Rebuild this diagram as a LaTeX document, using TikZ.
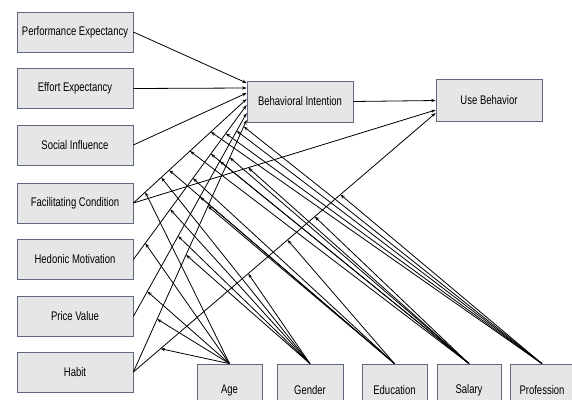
\documentclass[tikz,border=0pt]{standalone}
\usepackage{fontspec}
\setmainfont{Liberation Sans}[FakeStretch=0.76]
\usetikzlibrary{arrows.meta,calc}
\definecolor{boxfill}{RGB}{230,230,230}
\definecolor{boxline}{RGB}{95,105,125}
\begin{document}
\begin{tikzpicture}[x=1pt,y=-1pt,
  box/.style={draw=boxline,fill=boxfill,line width=0.7pt,inner sep=0pt,align=center,font=\fontsize{12.5}{14}\selectfont},
  lbox/.style={box,minimum width=116pt,minimum height=40pt},
  bbox/.style={box,minimum height=52pt},
  arr/.style={-{Stealth[length=4.5pt,width=3.2pt]},line width=0.8pt,black}]
\useasboundingbox (0,0) rectangle (572,399);
\clip (0,0) rectangle (572,399);
% source constructs
\node[lbox] (pe) at (75,32) {Performance Expectancy};
\node[lbox] (ee) at (75,88.5) {Effort Expectancy};
\node[lbox] (si) at (75,145) {Social Influence};
\node[lbox] (fc) at (75,203) {Facilitating Condition};
\node[lbox] (hm) at (75,259.5) {Hedonic Motivation};
\node[lbox] (pv) at (75,316.5) {Price Value};
\node[lbox] (ht) at (75,372) {Habit};
% targets
\node[box,minimum width=106pt,minimum height=41pt] (bi) at (300,101.5) {Behavioral Intention};
\node[box,minimum width=106pt,minimum height=42pt] (ub) at (489,100) {Use Behavior};
% moderators
\node[bbox,minimum width=65pt] (age) at (229.5,390) {Age};
\node[bbox,minimum width=66pt] (gen) at (310,390) {Gender};
\node[bbox,minimum width=65pt] (edu) at (394.5,390) {Education};
\node[bbox,minimum width=64pt] (sal) at (469,390) {Salary};
\node[bbox,minimum width=64pt] (pro) at (542,390) {Profession};
% end points on the targets
\coordinate (b1) at (bi.west |- 0,83);
\coordinate (b2) at (bi.west |- 0,88);
\coordinate (b3) at (bi.west |- 0,93);
\coordinate (b4) at (bi.west |- 0,99);
\coordinate (b5) at (bi.west |- 0,105);
\coordinate (b6) at (bi.west |- 0,113);
\coordinate (b7) at (bi.west |- 0,120);
\coordinate (u1) at (ub.west |- 0,100.5);
\coordinate (u2) at (ub.west |- 0,110);
\coordinate (u3) at (ub.west |- 0,113);
% main paths
\draw[arr] (pe.east) -- (b1);
\draw[arr] (ee.east) -- (b2);
\draw[arr] (si.east) -- (b3);
\draw[arr] (fc.east) -- (b4);
\draw[arr] (hm.east) -- (b5);
\draw[arr] (pv.east) -- (b6);
\draw[arr] (ht.east) -- (b7);
\draw[arr] (fc.east) -- (u2);
\draw[arr] (ht.east) -- (u3);
\draw[arr] (bi.east) -- (u1);
% moderating paths
\foreach \m/\a/\b/\c/\d/\e in {age/0.105/0.105/0.123/0.21/0.09, gen/0.246/0.325/0.395/0.465/0.38, edu/0.316/0.526/0.588/0.658/0.51, sal/0.5/0.684/0.763/0.851/0.6, pro/0.684/0.816/0.912/0.974/0.685}{
  \draw[arr] (\m.north) -- ($(fc.east)!\a!(b4)$);
  \draw[arr] (\m.north) -- ($(hm.east)!\b!(b5)$);
  \draw[arr] (\m.north) -- ($(pv.east)!\c!(b6)$);
  \draw[arr] (\m.north) -- ($(ht.east)!\d!(b7)$);
  \draw[arr] (\m.north) -- ($(ht.east)!\e!(u3)$);
}
\draw[arr] (sal.north) -- ($(fc.east)!0.38!(u2)$);
\end{tikzpicture}
\end{document}
